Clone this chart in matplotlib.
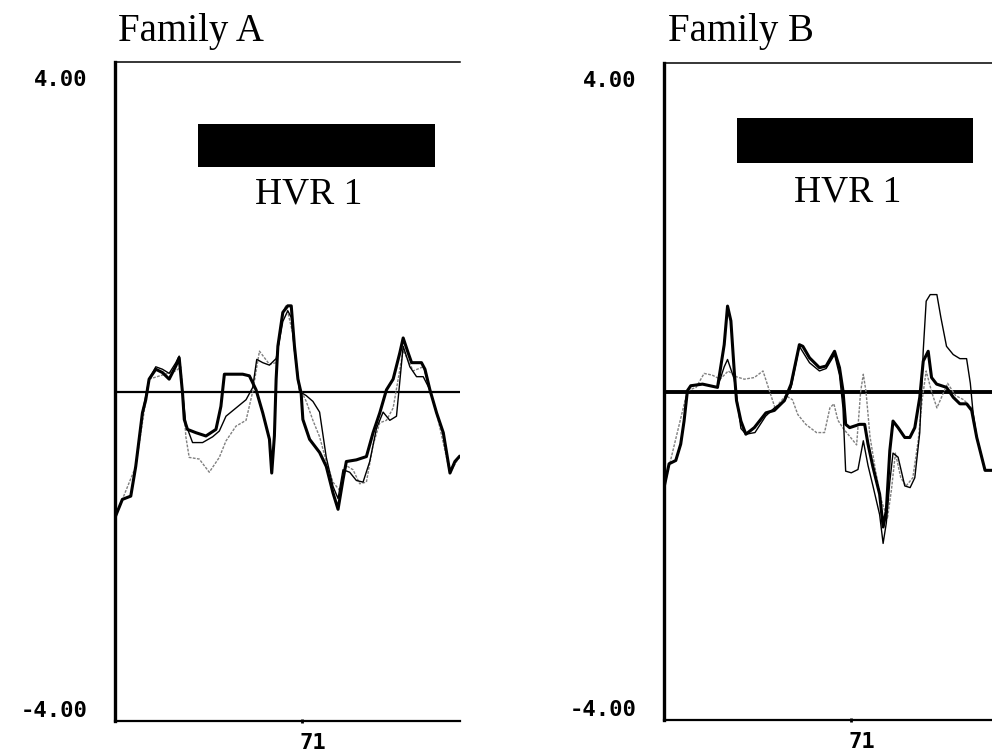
import numpy as np
import matplotlib
matplotlib.use("Agg")
import matplotlib.pyplot as plt
import matplotlib.transforms as mtransforms

# --- data ------------------------------------------------------------------
titles = ["Family A", "Family B"]
region_label = "HVR 1"
ytick_vals = [-4, 4]
ytick_labels = ["-4.00", "4.00"]
xtick_vals = [71]
xtick_labels = ["71"]

# Family A: heavy trace, thin trace, faint trace
xa1 = [1.25, 3.75, 6.9, 8.75, 11.25, 12.5, 13.75, 16.25, 18.75, 21.25, 23.75, 25, 26.25, 26.9, 28.1,
       31.25, 35, 38.75, 40.6, 41.9, 48.75, 51.25, 53.75, 56.25, 58.75, 59.6, 60.6, 61.25, 61.9, 63.75,
       65.6, 66.9, 68.1, 69.4, 70.6, 71.25, 73.75, 77.5, 80, 82.5, 84.4, 86.25, 87.5, 91.25, 95,
       97.5, 100, 102.5, 105, 107.5, 108.75, 110.6, 111.9, 115.6, 116.9, 118.75, 121.25, 123.75, 126.25, 128.1, 129.75]
ya1 = [-1.51, -1.31, -1.27, -0.91, -0.26, -0.10, 0.15, 0.27, 0.23, 0.15, 0.31, 0.41, -0.02, -0.34, -0.46,
       -0.50, -0.54, -0.46, -0.18, 0.21, 0.21, 0.19, 0.02, -0.26, -0.58, -0.99, -0.54, 0.15, 0.55, 0.96,
       1.04, 1.04, 0.55, 0.15, -0.02, -0.34, -0.58, -0.74, -0.91, -1.23, -1.43, -1.07, -0.85, -0.83, -0.79,
       -0.50, -0.26, 0.02, 0.15, 0.47, 0.65, 0.47, 0.35, 0.35, 0.27, 0.02, -0.26, -0.50, -0.99, -0.85, -0.79]

xa2 = [1.25, 3.75, 6.9, 8.75, 11.25, 13.75, 16.25, 18.75, 21.25, 23.75, 25, 26.25, 27.5, 30, 33.75,
       37.5, 40, 42.5, 46.25, 50, 52.5, 54, 56.25, 58.75, 61.25, 63.75, 65.6, 66.9, 68.1, 70,
       72.5, 75, 77.5, 80, 82.5, 84.4, 86.25, 88.75, 91.25, 93.75, 96.25, 98.75, 101.25, 103.75, 106.25,
       108.75, 111.25, 113.75, 116.25, 118.75, 121.25, 123.75, 126.25, 128.1, 129.75]
ya2 = [-1.51, -1.31, -1.27, -0.91, -0.26, 0.15, 0.30, 0.27, 0.22, 0.35, 0.43, 0.00, -0.40, -0.62, -0.62,
       -0.55, -0.48, -0.30, -0.20, -0.10, 0.05, 0.39, 0.35, 0.32, 0.40, 0.85, 0.98, 0.90, 0.50, 0.00,
       -0.05, -0.12, -0.25, -0.80, -1.15, -1.30, -0.95, -0.98, -1.08, -1.10, -0.85, -0.45, -0.25, -0.35, -0.30,
       0.55, 0.30, 0.18, 0.18, 0.02, -0.26, -0.50, -0.99, -0.85, -0.79]

xa3 = [1.25, 8.75, 13.75, 18.75, 23.75, 25.6, 27.5, 28.75, 32.5, 36.25, 40, 42.5, 46.25, 50, 52.5,
       55, 58.75, 61.25, 63.75, 65, 67.5, 70, 72.5, 75, 77.5, 80, 82.5, 85, 87.5, 90,
       92.5, 95, 97.5, 100, 102.5, 105, 108.75, 112.5, 116.25, 121.25, 126.25, 129.75]
ya3 = [-1.51, -0.91, 0.15, 0.20, 0.25, 0.30, -0.55, -0.80, -0.82, -0.98, -0.80, -0.60, -0.42, -0.35, 0.00,
       0.49, 0.33, 0.35, 0.95, 1.05, 0.70, 0.05, -0.12, -0.35, -0.55, -0.85, -1.10, -1.20, -0.90, -0.95,
       -1.12, -1.10, -0.65, -0.38, -0.35, -0.20, 0.50, 0.25, 0.30, -0.26, -0.99, -0.79]

# Family B
xb1 = [1, 2.9, 5.4, 7.25, 8.5, 9.75, 11, 15.4, 21, 23.5, 24.75, 26, 27.25, 28.1, 29.75,
       31.6, 34.75, 39.1, 42.25, 46, 48.5, 51.6, 52.9, 55.4, 59.1, 61.6, 64.75, 66.6, 67.9, 68.9,
       70.4, 74.1, 76, 77.25, 79.1, 81.6, 82.9, 84.1, 85.4, 86.6, 88.5, 91, 92.9, 94.75, 96.6,
       97.9, 99.75, 101, 102.9, 106.6, 109.1, 111.6, 114.1, 116, 117.9, 121, 123.1]
yb1 = [-1.17, -0.88, -0.84, -0.64, -0.36, 0.01, 0.07, 0.09, 0.05, 0.57, 1.04, 0.86, 0.25, -0.11, -0.36,
       -0.52, -0.44, -0.26, -0.23, -0.11, 0.09, 0.57, 0.55, 0.41, 0.29, 0.31, 0.49, 0.29, 0.01, -0.40,
       -0.44, -0.40, -0.40, -0.64, -0.92, -1.25, -1.65, -1.45, -0.72, -0.36, -0.44, -0.56, -0.56, -0.44, -0.07,
       0.37, 0.49, 0.17, 0.09, 0.05, -0.07, -0.15, -0.15, -0.23, -0.56, -0.96, -0.96]

xb2 = [1, 2.9, 5.4, 7.25, 8.5, 9.75, 11, 15.4, 21, 23.5, 24.75, 27.25, 29.75, 31.6, 35,
       39, 42.25, 46, 48.5, 51.6, 55.4, 59.1, 61.6, 64.75, 66.6, 67.9, 68.9, 71, 73.5, 75.5,
       77.25, 79.1, 81.6, 82.9, 84.1, 85.4, 86.6, 88.5, 91, 93, 94.75, 96.6, 97.9, 99, 100.5,
       103, 104.5, 106.6, 109.1, 111.6, 114.1, 115.5, 116.5, 117.9, 121, 123.1]
yb2 = [-1.17, -0.88, -0.84, -0.64, -0.36, 0.01, 0.07, 0.09, 0.05, 0.30, 0.39, 0.15, -0.45, -0.52, -0.50,
       -0.30, -0.20, -0.12, 0.05, 0.55, 0.35, 0.25, 0.28, 0.45, 0.20, -0.20, -0.97, -0.99, -0.95, -0.60,
       -0.90, -1.15, -1.50, -1.85, -1.60, -1.10, -0.75, -0.80, -1.15, -1.17, -1.05, -0.50, 0.50, 1.10, 1.18,
       1.18, 0.90, 0.55, 0.45, 0.40, 0.40, 0.10, -0.25, -0.56, -0.96, -0.96]

xb3 = [1, 9.75, 13, 16, 19, 22, 25, 28, 31, 34.75, 38, 40, 42.5, 46.5, 49,
       51, 54, 58, 61, 63, 64.5, 66, 68, 70.5, 73, 74.5, 75.5, 76.5, 78, 80,
       82, 84.5, 86, 87.5, 89.5, 91.5, 94, 96, 97.5, 99, 101, 103, 105, 107, 110,
       113, 116, 118, 121, 123.1]
yb3 = [-1.17, 0.01, 0.05, 0.22, 0.20, 0.15, 0.25, 0.18, 0.15, 0.17, 0.25, 0.05, -0.20, -0.05, -0.10,
       -0.28, -0.40, -0.50, -0.50, -0.20, -0.15, -0.35, -0.45, -0.55, -0.65, 0.00, 0.21, 0.00, -0.55, -0.95,
       -1.30, -1.55, -1.20, -0.75, -1.05, -1.15, -1.05, -0.60, -0.10, 0.25, 0.00, -0.20, -0.05, 0.10, -0.05,
       -0.10, -0.20, -0.56, -0.96, -0.96]

# --- figure -----------------------------------------------------------------
fig = plt.figure(figsize=(9.92, 7.56), dpi=100)
fig.patch.set_facecolor("white")

panels = [
    dict(rect=[115 / 992, 35 / 756, 345 / 992, 659 / 756], xlim=(1, 130),
         series=[(xa3, ya3), (xa2, ya2), (xa1, ya1)], zero_lw=1.6,
         bar=(32.0, 120.7, 2.73, 3.25), label_xy=(73.5, 2.40), title_x=118 / 992),
    dict(rect=[664 / 992, 36 / 756, 328 / 992, 657 / 756], xlim=(1, 123.6),
         series=[(xb3, yb3), (xb2, yb2), (xb1, yb1)], zero_lw=2.8,
         bar=(28.3, 116.5, 2.78, 3.33), label_xy=(69.8, 2.43), title_x=668 / 992),
]

for p, title in zip(panels, titles):
    ax = fig.add_axes(p["rect"])
    ax.set_xlim(*p["xlim"])
    ax.set_ylim(-4, 4)

    ax.axhline(0, color="black", lw=p["zero_lw"], zorder=1)

    (xf, yf), (xt, yt), (xh, yh) = p["series"]
    ax.plot(xf, yf, color="0.5", lw=1.0, ls=(0, (2, 1)), zorder=2)
    ax.plot(xt, yt, color="black", lw=1.0, zorder=3)
    ax.plot(xh, yh, color="black", lw=2.2, zorder=4)

    x0, x1, y0, y1 = p["bar"]
    ax.fill_between([x0, x1], y0, y1, color="black", lw=0)
    ax.text(*p["label_xy"], region_label, ha="center", va="center",
            family="Liberation Serif", fontsize=27)

    ax.spines["right"].set_visible(False)
    ax.spines["left"].set_linewidth(2.4)
    ax.spines["bottom"].set_linewidth(1.6)
    ax.spines["top"].set_linewidth(1.1)

    ax.set_yticks(ytick_vals)
    ax.set_yticklabels(ytick_labels, family="DejaVu Sans Mono", fontsize=16,
                       fontweight="bold")
    ax.tick_params(axis="y", length=0, pad=20)
    labs = ax.get_yticklabels()
    labs[0].set_va("bottom")
    labs[1].set_va("top")
    labs[1].set_transform(labs[1].get_transform() +
                          mtransforms.ScaledTranslation(0, -6 / 72, fig.dpi_scale_trans))

    ax.set_xticks(xtick_vals)
    ax.set_xticklabels(xtick_labels, family="DejaVu Sans Mono", fontsize=16,
                       fontweight="bold", ha="left")
    ax.tick_params(axis="x", length=3, width=2, direction="inout", pad=7)
    for lab in ax.get_xticklabels():
        lab.set_transform(lab.get_transform() +
                          mtransforms.ScaledTranslation(-2 / 72, 0, fig.dpi_scale_trans))

    fig.text(p["title_x"], 1 - 41 / 756, title, family="Liberation Serif",
             fontsize=28, va="baseline", ha="left")

fig.savefig("out.png", dpi=100, facecolor="white")
